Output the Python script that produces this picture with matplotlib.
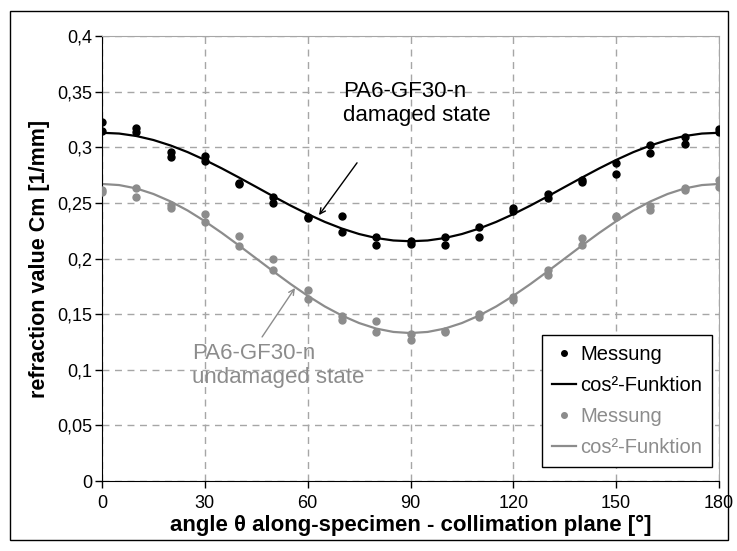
import matplotlib
matplotlib.use("Agg")
import matplotlib.pyplot as plt
from matplotlib.patches import Rectangle
from matplotlib.ticker import FuncFormatter

plt.rcParams['font.family'] = ['Liberation Sans', 'DejaVu Sans']

# measured points (two per angle)
winkel = [0, 10, 20, 30, 40, 50, 60, 70, 80, 90, 100, 110, 120, 130, 140, 150, 160, 170, 180]
dam_a = [0.323, 0.317, 0.296, 0.292, 0.268, 0.255, 0.237, 0.238, 0.219, 0.216, 0.219, 0.228, 0.245, 0.258, 0.271, 0.286, 0.302, 0.309, 0.316]
dam_b = [0.315, 0.314, 0.291, 0.288, 0.267, 0.250, 0.236, 0.224, 0.212, 0.213, 0.212, 0.219, 0.243, 0.254, 0.269, 0.276, 0.295, 0.303, 0.314]
und_a = [0.262, 0.263, 0.248, 0.240, 0.220, 0.200, 0.172, 0.148, 0.144, 0.132, 0.135, 0.150, 0.165, 0.190, 0.218, 0.238, 0.247, 0.263, 0.271]
und_b = [0.260, 0.255, 0.245, 0.233, 0.211, 0.190, 0.164, 0.145, 0.134, 0.127, 0.134, 0.147, 0.163, 0.185, 0.212, 0.237, 0.244, 0.262, 0.264]

# cos²-Funktion every 5°
fit_winkel = list(range(0, 185, 5))
fit_dam = [0.313, 0.3123, 0.3101, 0.3065, 0.3016, 0.2956, 0.2886, 0.2809, 0.2727, 0.2643,
           0.2558, 0.2476, 0.2399, 0.2329, 0.2269, 0.2220, 0.2184, 0.2162, 0.2155,
           0.2162, 0.2184, 0.2220, 0.2269, 0.2329, 0.2399, 0.2476, 0.2558, 0.2643,
           0.2727, 0.2809, 0.2886, 0.2956, 0.3016, 0.3065, 0.3101, 0.3123, 0.313]
fit_und = [0.267, 0.2660, 0.2630, 0.2580, 0.2513, 0.2431, 0.2335, 0.2229, 0.2116, 0.2,
           0.1884, 0.1771, 0.1665, 0.1569, 0.1487, 0.1420, 0.1370, 0.1340, 0.133,
           0.1340, 0.1370, 0.1420, 0.1487, 0.1569, 0.1665, 0.1771, 0.1884, 0.2,
           0.2116, 0.2229, 0.2335, 0.2431, 0.2513, 0.2580, 0.2630, 0.2660, 0.267]

grau = '#8c8c8c'

fig = plt.figure(figsize=(7.37, 5.51), dpi=100)
ax = fig.add_axes([0.1384, 0.127, 0.8372, 0.8077])

ax.plot(winkel, dam_a, 'o', color='k', ms=5, label='Messung', zorder=3)
ax.plot(winkel, dam_b, 'o', color='k', ms=5, zorder=3)
ax.plot(fit_winkel, fit_dam, '-', color='k', lw=1.6, label='cos²-Funktion', zorder=2)
ax.plot(winkel, und_a, 'o', color=grau, ms=5, label='Messung', zorder=3)
ax.plot(winkel, und_b, 'o', color=grau, ms=5, zorder=3)
ax.plot(fit_winkel, fit_und, '-', color=grau, lw=1.6, label='cos²-Funktion', zorder=2)

ax.set_xlim(0, 180)
ax.set_ylim(0, 0.4)
ax.set_xticks([0, 30, 60, 90, 120, 150, 180])
ax.set_yticks([0, 0.05, 0.1, 0.15, 0.2, 0.25, 0.3, 0.35, 0.4])
ax.yaxis.set_major_formatter(FuncFormatter(lambda v, p: ('%g' % round(v, 2)).replace('.', ',')))
ax.tick_params(labelsize=13, direction='out', length=5, width=1)
ax.tick_params(axis='x', pad=5)
ax.tick_params(axis='y', pad=2)
ax.grid(True, color='#a6a6a6', linestyle=(0, (5, 4)), linewidth=1)
ax.set_axisbelow(True)
ax.spines['left'].set_color('k')
ax.spines['bottom'].set_color('k')
ax.spines['top'].set_color('#a6a6a6')
ax.spines['right'].set_color('#a6a6a6')

ax.set_xlabel('angle θ along-specimen - collimation plane [°]', fontsize=16, fontweight='bold', labelpad=2)
ax.set_ylabel('refraction value Cm [1/mm]', fontsize=15.5, fontweight='bold', labelpad=5)

ax.text(70.3, 0.339, 'PA6-GF30-n\ndamaged state', fontsize=16, ha='left', va='center',
        color='k', linespacing=1.2)
ax.annotate('', xy=(63.3, 0.239), xytext=(74.4, 0.286),
            arrowprops=dict(arrowstyle='->', color='k', lw=1, shrinkA=0, shrinkB=0))
ax.text(26.3, 0.104, 'PA6-GF30-n\nundamaged state', fontsize=16, ha='left', va='center',
        color=grau, linespacing=1.15)
ax.annotate('', xy=(56.3, 0.1735), xytext=(46.7, 0.1295),
            arrowprops=dict(arrowstyle='->', color=grau, lw=1, shrinkA=0, shrinkB=0))

leg = ax.legend(loc='lower right', bbox_to_anchor=(0.989, 0.031), borderaxespad=0, fontsize=14.5,
                frameon=True, fancybox=False, edgecolor='k', framealpha=1, handlelength=1.2,
                handletextpad=0.2, borderpad=0.5, labelspacing=0.6, markerscale=0.8)
leg.get_frame().set_linewidth(1)
for t, c in zip(leg.get_texts(), ['k', 'k', grau, grau]):
    t.set_color(c)

fig.patches.append(Rectangle((10 / 737, 11 / 551), 718 / 737, 529 / 551, transform=fig.transFigure,
                             fill=False, edgecolor='k', linewidth=1))

fig.savefig('out.png', dpi=100)
